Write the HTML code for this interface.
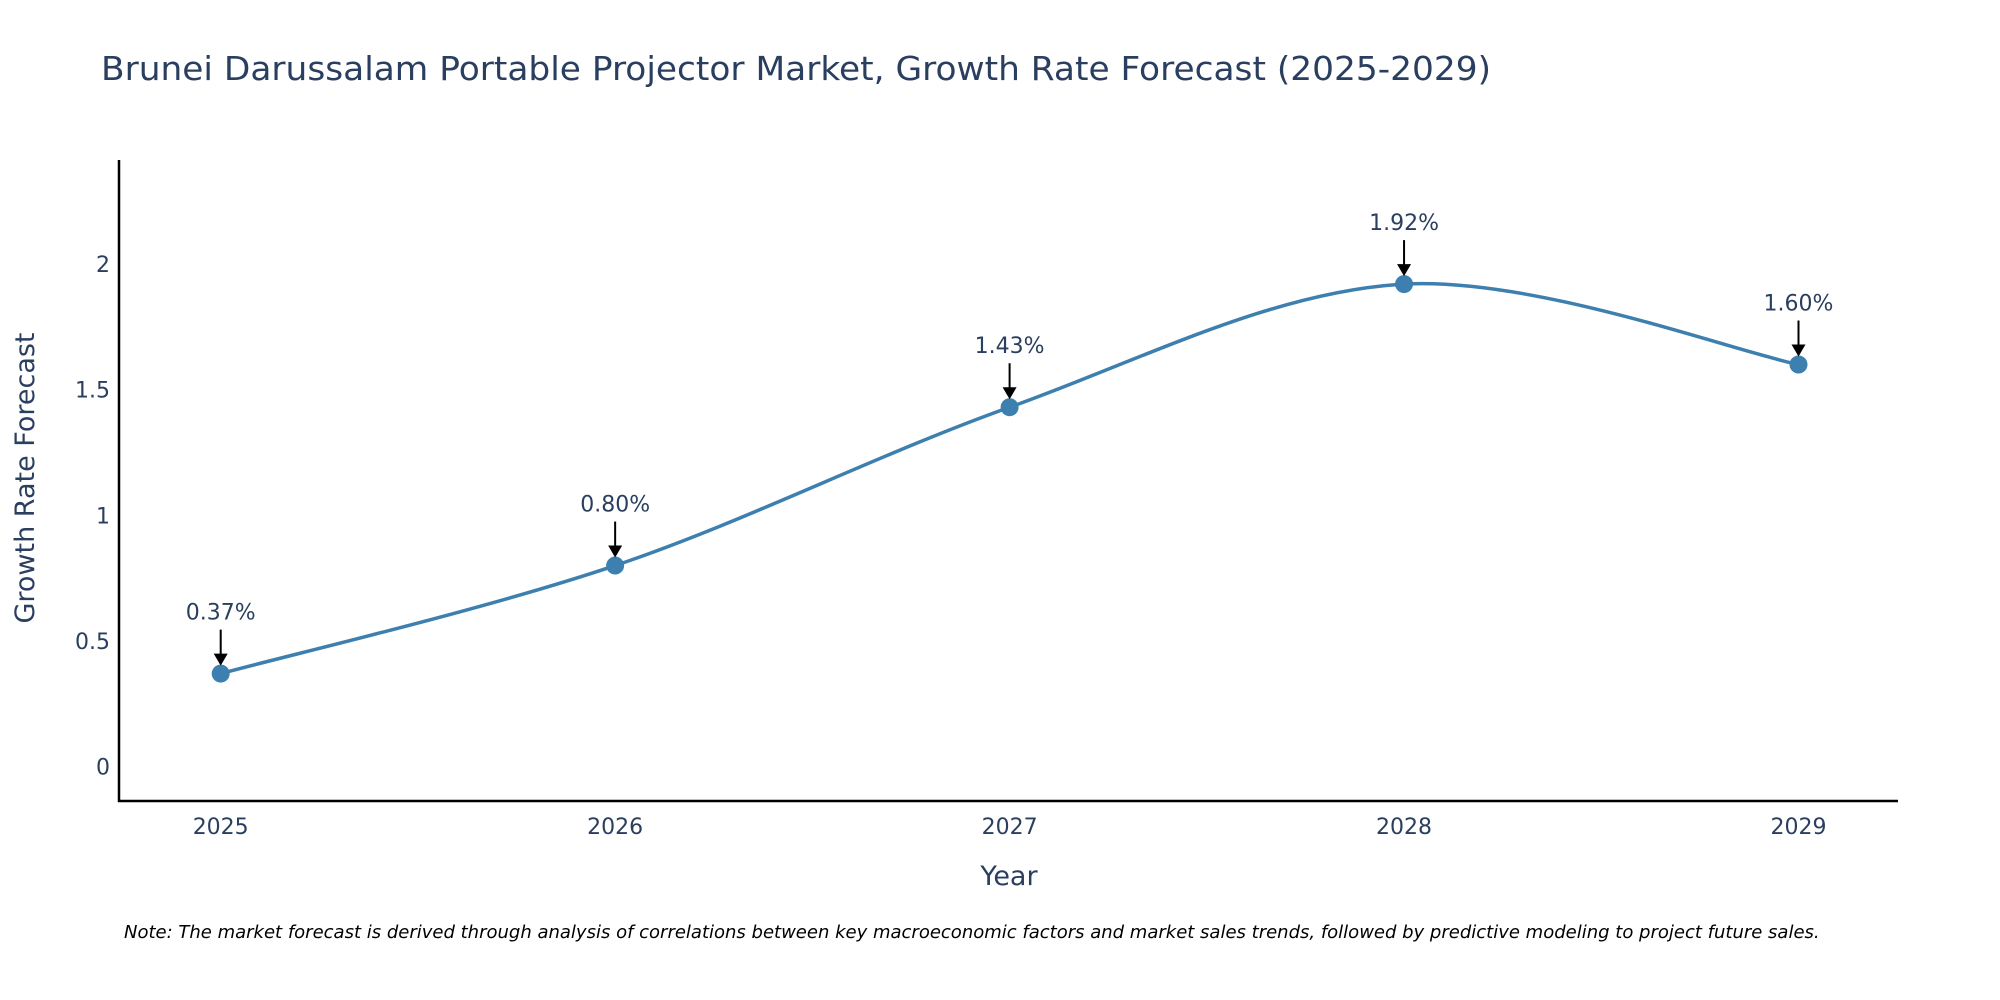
<!DOCTYPE html>
<html><head><meta charset="utf-8"><style>
body{margin:0;background:#fff;}
svg{display:block;font-family:"DejaVu Sans","Liberation Sans",sans-serif;}
</style></head><body>
<svg id="chart" width="2000" height="1000" viewBox="0 0 2000 1000" xmlns="http://www.w3.org/2000/svg">
<text x="101" y="80" font-size="33" fill="#2a3f5f" textLength="1390" lengthAdjust="spacingAndGlyphs">Brunei Darussalam Portable Projector Market, Growth Rate Forecast (2025-2029)</text>
<g id="yticks"></g>
<g id="xticks"></g>
<line x1="119" y1="160" x2="119" y2="802" stroke="#000" stroke-width="2.5"/>
<line x1="118" y1="801" x2="1898" y2="801" stroke="#000" stroke-width="2.5"/>
<path id="line" fill="none" stroke="#3d7fae" stroke-width="3.5"/>
<g id="points"></g>
<g id="annots"></g>
<text transform="translate(34,478) rotate(-90)" text-anchor="middle" font-size="27" fill="#2a3f5f">Growth Rate Forecast</text>
<text x="1009" y="885" text-anchor="middle" font-size="27" fill="#2a3f5f">Year</text>
<text x="124" y="938" font-size="18" font-style="italic" fill="#000">Note: The market forecast is derived through analysis of correlations between key macroeconomic factors and market sales trends, followed by predictive modeling to project future sales.</text>
</svg>
<script>
const years=[2025,2026,2027,2028,2029];
const values=[0.37,0.80,1.43,1.92,1.60];
const labels=["0.37%","0.80%","1.43%","1.92%","1.60%"];
const yTicks=[0,0.5,1,1.5,2];
const tickLabels=["0","0.5","1","1.5","2"];
const NS="http://www.w3.org/2000/svg";
const x=v=>220.7+(v-2025)*394.45;
const y=v=>766.6-v*251.3;
function mk(tag,attrs,parent){const e=document.createElementNS(NS,tag);for(const k in attrs)e.setAttribute(k,attrs[k]);parent.appendChild(e);return e;}
const yt=document.getElementById('yticks');
yTicks.forEach((t,i)=>{const e=mk('text',{x:110,y:y(t)+8,'text-anchor':'end','font-size':22,fill:'#2a3f5f'},yt);


e.textContent=tickLabels[i];});
const xt=document.getElementById('xticks');
years.forEach(yr=>{const e=mk('text',{x:x(yr),y:834,'text-anchor':'middle','font-size':22,fill:'#2a3f5f'},xt);


e.textContent=yr;});
const P=years.map((yr,i)=>[x(yr),y(values[i])]);
let d=`M${P[0][0]},${P[0][1]}`;const s=1/6*1.0;
for(let i=0;i<P.length-1;i++){const p0=P[i-1]||P[i],p1=P[i],p2=P[i+1],p3=P[i+2]||P[i+1];
const c1=[p1[0]+(p2[0]-p0[0])*s,p1[1]+(p2[1]-p0[1])*s],c2=[p2[0]-(p3[0]-p1[0])*s,p2[1]-(p3[1]-p1[1])*s];
d+=` C${c1[0]},${c1[1]} ${c2[0]},${c2[1]} ${p2[0]},${p2[1]}`;}
document.getElementById('line').setAttribute('d',d);
const pts=document.getElementById('points'),an=document.getElementById('annots');
P.forEach((p,i)=>{const c=mk('circle',{cx:p[0],cy:p[1],r:9,fill:'#3d7fae'},pts);


const l=mk('line',{x1:p[0],y1:p[1]-44,x2:p[0],y2:p[1]-18,stroke:'#000','stroke-width':2},an);


const h=mk('polygon',{points:`${p[0]-7},${p[1]-20} ${p[0]+7},${p[1]-20} ${p[0]},${p[1]-8}`,fill:'#000'},an);


const t=mk('text',{x:p[0],y:p[1]-54,'text-anchor':'middle','font-size':22,fill:'#2a3f5f'},an);


t.textContent=labels[i];});
</script>
</body></html>
